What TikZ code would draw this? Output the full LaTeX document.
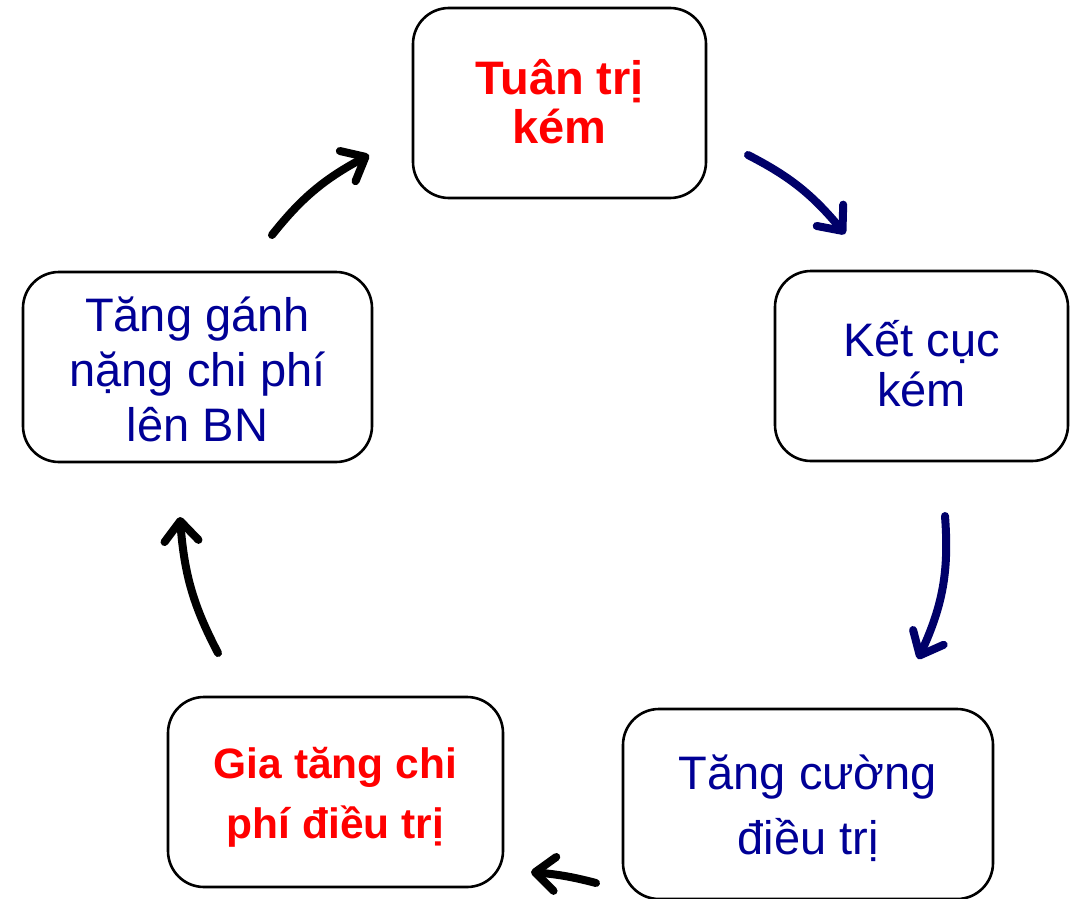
\documentclass[tikz,border=0pt]{standalone}
\usepackage{fontspec}
\setmainfont{Liberation Sans}
\usetikzlibrary{arrows.meta,bending}
\definecolor{txtblue}{RGB}{0,0,150}
\definecolor{arrblue}{RGB}{0,0,105}
\definecolor{txtred}{RGB}{255,0,0}
\tikzset{
  box/.style={draw=black, line width=2.6pt, rounded corners=36pt, fill=white, inner sep=0pt},
  txt/.style={align=center, inner sep=0pt},
  bluetxt/.style={txt, text=txtblue},
  redtxt/.style={txt, text=txtred},
  cyc/.style={line width=8pt, line cap=round, -{Straight Barb[length=20pt, width=34pt, line cap=round, line join=round]}},
}
\begin{document}
\begin{tikzpicture}[x=1pt, y=-1pt]
\useasboundingbox (0,0) rectangle (1073,899);
% boxes
\node[box, minimum width=293pt, minimum height=190pt] (top) at (559.5,103) {};
\node[box, minimum width=293pt, minimum height=190pt] (right) at (921.5,366) {};
\node[box, minimum width=370pt, minimum height=190pt] (br) at (808,804) {};
\node[box, minimum width=335pt, minimum height=190pt] (bl) at (335.5,792) {};
\node[box, minimum width=349pt, minimum height=190pt] (left) at (197.5,367) {};
% texts
\node[redtxt, font=\bfseries\fontsize{47}{49}\selectfont] (toptxt) at ([yshift=1pt]top.center) {Tuân trị\\kém};
\node[bluetxt, font=\fontsize{47}{50}\selectfont] (righttxt) at ([yshift=2pt]right.center) {Kết cục\\kém};
\node[bluetxt, font=\fontsize{47}{65}\selectfont] (brtxt) at ([yshift=-4pt]br.center) {Tăng cường\\điều trị};
\node[redtxt, font=\bfseries\fontsize{42.5}{60}\selectfont] (bltxt) at ([yshift=-5pt]bl.center) {Gia tăng chi\\phí điều trị};
\node[bluetxt, font=\fontsize{47}{55}\selectfont] (lefttxt) at ([yshift=-2pt]left.center) {Tăng gánh\\nặng chi phí\\lên BN};
% arrow end points
\coordinate (a1s) at (748,155);
\coordinate (a1e) at (845,234);
\coordinate (a2s) at (945,516);
\coordinate (a2e) at (918,659);
\coordinate (a3s) at (596,883);
\coordinate (a3e) at (531,872);
\coordinate (a4s) at (218,653);
\coordinate (a4e) at (180,517);
\coordinate (a5s) at (272,235);
\coordinate (a5e) at (369,155);
% arrows
\draw[cyc, draw=arrblue] (a1s) to[bend left=12] (a1e);
\draw[cyc, draw=arrblue] (a2s) to[bend left=15] (a2e);
\draw[cyc, draw=black] (a3s) to[bend right=5] (a3e);
\draw[cyc, draw=black] (a4s) to[bend left=12] (a4e);
\draw[cyc, draw=black] (a5s) to[bend left=12] (a5e);
\end{tikzpicture}
\end{document}
